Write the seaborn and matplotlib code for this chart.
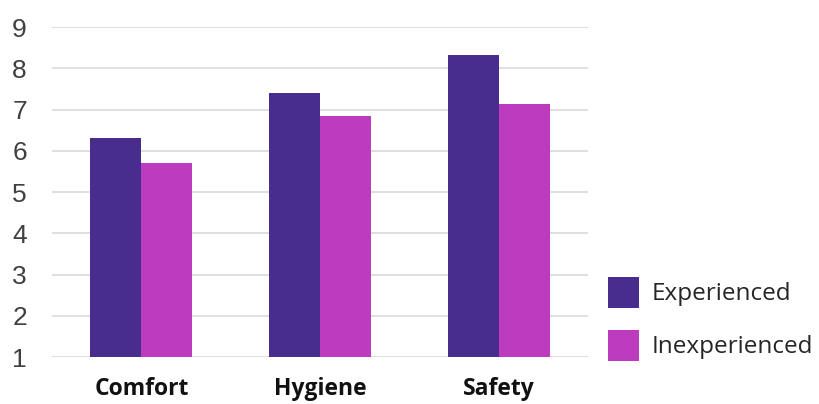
import matplotlib
matplotlib.use("Agg")
import matplotlib.pyplot as plt
import seaborn as sns
import pandas as pd
from matplotlib.patches import Patch

categories = ["Comfort", "Hygiene", "Safety"]
groups = ["Experienced", "Inexperienced"]
experienced = [6.30, 7.41, 8.32]
inexperienced = [5.71, 6.85, 7.13]
y_ticks = [1, 2, 3, 4, 5, 6, 7, 8, 9]
colors = ["#482C8E", "#BD3BBF"]

df = pd.DataFrame({
    "category": categories * 2,
    "group": [groups[0]] * 3 + [groups[1]] * 3,
    "score": experienced + inexperienced,
})

sns.set_theme(style="white")
plt.rcParams["font.family"] = ["Liberation Sans", "DejaVu Sans"]

fig = plt.figure(figsize=(8.2, 4.04), dpi=100)
ax = fig.add_axes([0.0634, 0.116, 0.654, 0.817])

sns.barplot(data=df, x="category", y="score", hue="group",
            palette=colors, width=0.57, saturation=1, ax=ax,
            errorbar=None, legend=False, linewidth=0, edgecolor="none",
            zorder=3)

ax.set_ylim(1, 9)
ax.set_yticks(y_ticks)
ax.set_yticklabels([str(t) for t in y_ticks], fontsize=19, color="#404040")
ax.set_xlim(-0.5, 2.5)
ax.set_xlabel("")
ax.set_ylabel("")
ax.grid(axis="y", color="#d9d9d9", linewidth=1.2, zorder=0)
ax.set_axisbelow(True)
for s in ax.spines.values():
    s.set_visible(False)
ax.tick_params(axis="both", length=0)
ax.tick_params(axis="y", pad=18)
ax.tick_params(axis="x", pad=14)
for lbl in ax.get_xticklabels():
    lbl.set_fontfamily(["Open Sans", "DejaVu Sans"])
    lbl.set_fontweight("bold")
    lbl.set_fontsize(16.5)
    lbl.set_color("#111111")

handles = [Patch(facecolor=c, edgecolor="none") for c in colors]
fig.legend(handles, groups, loc="upper left", bbox_to_anchor=(0.741, 0.315),
           frameon=False, borderpad=0, borderaxespad=0,
           handlelength=1.28, handleheight=1.59,
           labelspacing=0.9, handletextpad=0.55,
           prop={"family": ["Open Sans", "DejaVu Sans"], "size": 17.5})

fig.savefig("out.png", dpi=100)
